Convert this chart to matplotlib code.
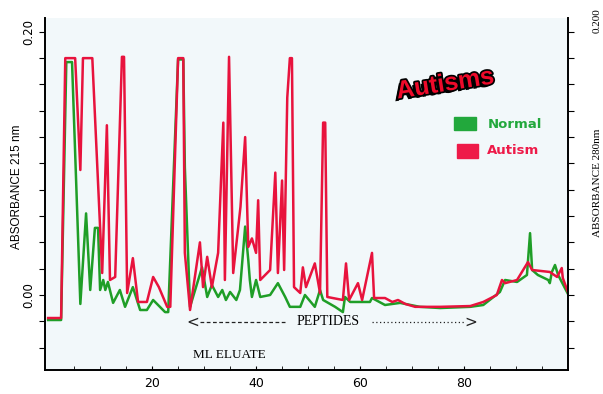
import numpy as np
import matplotlib
matplotlib.use("Agg")
import matplotlib.pyplot as plt
import matplotlib.patheffects as pe
from matplotlib.patches import Rectangle

# ml eluate vs absorbance
autism_x = [0.0, 2.5, 3.3, 5.2, 6.2, 6.7, 8.5, 10.4, 11.3, 11.9, 12.9, 14.2, 14.6, 15.2,
            16.3, 17.3, 19.0, 20.2, 21.3, 22.9, 23.5, 25.0, 26.0, 26.3, 27.3, 29.2, 29.8,
            30.6, 31.5, 32.7, 33.7, 34.0, 34.8, 35.6, 37.0, 37.9, 38.5, 39.2, 40.0, 40.4,
            40.8, 42.7, 43.7, 44.2, 45.0, 45.4, 46.0, 46.5, 46.9, 47.3, 48.5, 49.0, 49.6,
            51.3, 52.3, 52.9, 53.3, 53.7, 56.7, 57.3, 57.9, 59.6, 60.4, 62.3, 62.7, 64.8,
            66.2, 67.3, 68.7, 70.6, 75.4, 81.2, 83.7, 86.3, 87.3, 87.9, 90.2, 92.3, 93.1,
            96.5, 97.9, 98.8, 99.0, 100.4]
autism_y = [-0.0175, -0.0175, 0.180, 0.180, 0.095, 0.180, 0.180, 0.0167, 0.129, 0.0114,
            0.0137, 0.181, 0.181, 0.0015, 0.028, -0.0053, -0.0053, 0.0137, 0.006, -0.009,
            -0.009, 0.180, 0.180, 0.032, -0.0114, 0.040, 0.006, 0.029, 0.006, 0.032, 0.131,
            0.0114, 0.181, 0.0167, 0.067, 0.120, 0.0365, 0.043, 0.032, 0.072, 0.0114, 0.019,
            0.093, 0.0167, 0.087, 0.019, 0.150, 0.180, 0.180, 0.006, 0.0015, 0.021, 0.006,
            0.024, 0.0015, 0.131, 0.131, -0.0015, -0.0038, 0.024, -0.0038, 0.009, -0.0038,
            0.032, -0.0023, -0.0023, -0.0053, -0.0038, -0.0068, -0.009, -0.009, -0.0084,
            -0.0053, 0.0, 0.0114, 0.009, 0.0114, 0.025, 0.019, 0.0175, 0.0137, 0.0205,
            0.0129, -0.0023]

normal_x = [0.0, 2.5, 3.5, 4.6, 6.2, 7.3, 8.1, 9.0, 9.6, 10.0, 10.6, 11.0, 11.5, 12.5,
            13.8, 14.8, 16.3, 17.7, 19.0, 20.2, 22.5, 23.1, 25.0, 26.0, 26.3, 27.3, 29.6,
            30.6, 31.5, 32.7, 33.5, 34.2, 35.0, 36.2, 36.9, 37.9, 38.5, 38.8, 39.2, 40.0,
            40.8, 42.7, 44.2, 45.6, 46.5, 48.5, 49.4, 51.3, 52.3, 52.9, 55.2, 56.7, 57.1,
            58.1, 61.9, 62.3, 64.8, 67.7, 71.5, 75.4, 81.2, 83.7, 86.9, 87.9, 90.2, 92.1,
            92.7, 93.1, 94.2, 96.2, 96.5, 96.9, 97.5, 98.1, 99.4, 100.4]
normal_y = [-0.019, -0.019, 0.177, 0.177, -0.0068, 0.062, 0.0038, 0.051, 0.051, 0.0038,
            0.0114, 0.0038, 0.0099, -0.006, 0.0038, -0.009, 0.006, -0.0114, -0.0114, -0.0038,
            -0.013, -0.013, 0.179, 0.179, 0.097, -0.009, 0.021, -0.0015, 0.0076, -0.0015,
            0.0038, -0.0038, 0.0023, -0.0038, 0.0038, 0.052, 0.0266, 0.0114, -0.0015, 0.0114,
            -0.0015, 0.0, 0.009, -0.0015, -0.009, -0.009, 0.0, -0.009, 0.0038, -0.0038,
            -0.009, -0.013, -0.0015, -0.0053, -0.0053, -0.0023, -0.0076, -0.006, -0.009,
            -0.0099, -0.009, -0.0076, 0.0023, 0.0114, 0.0099, 0.0152, 0.047, 0.019, 0.0152,
            0.0114, 0.009, 0.0175, 0.0228, 0.0152, 0.0053, -0.0023]

x_ticks = [20, 40, 60, 80]
y_ticks = np.round(np.arange(-0.04, 0.2001, 0.02), 2)

red = '#e8133d'
green = '#1f9e27'

fig = plt.figure(figsize=(6.03, 3.94), dpi=100)
ax = fig.add_axes([45 / 603, 1 - 370 / 394, 523 / 603, 352 / 394])
ax.set_facecolor('#f2f8fa')

ax.plot(normal_x, normal_y, color=green, lw=1.8)
ax.plot(autism_x, autism_y, color=red, lw=1.8)

ax.set_xlim(-0.6, 100)
ax.set_ylim(-0.057, 0.2105)

ax.spines['top'].set_visible(False)
for s in ['left', 'bottom', 'right']:
    ax.spines[s].set_linewidth(1.4)

ax.set_xticks(x_ticks)
ax.set_xticks(np.arange(5, 100, 5), minor=True)
ax.tick_params(axis='x', which='both', direction='in', length=3, labelsize=9, pad=5)
ax.set_yticks(y_ticks)
ax.set_yticklabels(['0.00' if abs(v) < 1e-9 else ('0.20' if abs(v - 0.2) < 1e-9 else '')
                    for v in y_ticks], rotation=90, va='center', fontsize=8.5)
ax.tick_params(axis='y', which='both', direction='out', length=4, right=True, pad=3)

# axis titles
fig.text(17 / 603, 1 - 187 / 394, 'ABSORBANCE 215 nm', rotation=90, ha='center',
         va='center', fontsize=8.5, family='Liberation Sans')
fig.text(597 / 603, 1 - 183 / 394, 'ABSORBANCE 280nm', rotation=90, ha='center',
         va='center', fontsize=8, family='Liberation Serif')
fig.text(597 / 603, 1 - 21 / 394, '0.200', rotation=90, ha='center', va='center',
         fontsize=8, family='Liberation Serif')

# peptides marker and eluate label
ax.text(53.8, -0.0205, 'PEPTIDES', ha='center', va='center', fontsize=10,
        family='Liberation Serif')
ax.text(27.9, -0.0205, '<', ha='center', va='center', fontsize=11, color='#222222')
ax.text(81.2, -0.0205, '>', ha='center', va='center', fontsize=11, color='#222222')
ax.plot([29.2, 45.6], [-0.0205, -0.0205], color='#222222', lw=0.9, ls=(0, (3, 2)))
ax.plot([62.3, 80.2], [-0.0205, -0.0205], color='#222222', lw=0.9, ls=(0, (1, 2)))
ax.text(34.8, -0.0456, 'ML ELUATE', ha='center', va='center', fontsize=9.5,
        family='Liberation Serif')

# title
t = fig.text(445 / 603, 1 - 84 / 394, 'Autisms', ha='center', va='center', rotation=9,
             fontsize=18, fontweight='bold', color='#ee0a2a', family='Liberation Sans')
t.set_path_effects([pe.withSimplePatchShadow(offset=(-2, -2), shadow_rgbFace='black', alpha=1),
                    pe.Stroke(linewidth=2.5, foreground='black'), pe.Normal()])

# legend
fig.patches.append(Rectangle((454 / 603, 1 - 130 / 394), 22 / 603, 13 / 394,
                             transform=fig.transFigure, color='#22a83c'))
fig.patches.append(Rectangle((457 / 603, 1 - 158 / 394), 21 / 603, 14 / 394,
                             transform=fig.transFigure, color='#ee1a48'))
fig.text(488 / 603, 1 - 125 / 394, 'Normal', ha='left', va='center', fontsize=9.5,
         fontweight='bold', color='#22a83c')
fig.text(487 / 603, 1 - 151 / 394, 'Autism', ha='left', va='center', fontsize=9.5,
         fontweight='bold', color='#ee1a48')

fig.savefig('out.png', dpi=100)
